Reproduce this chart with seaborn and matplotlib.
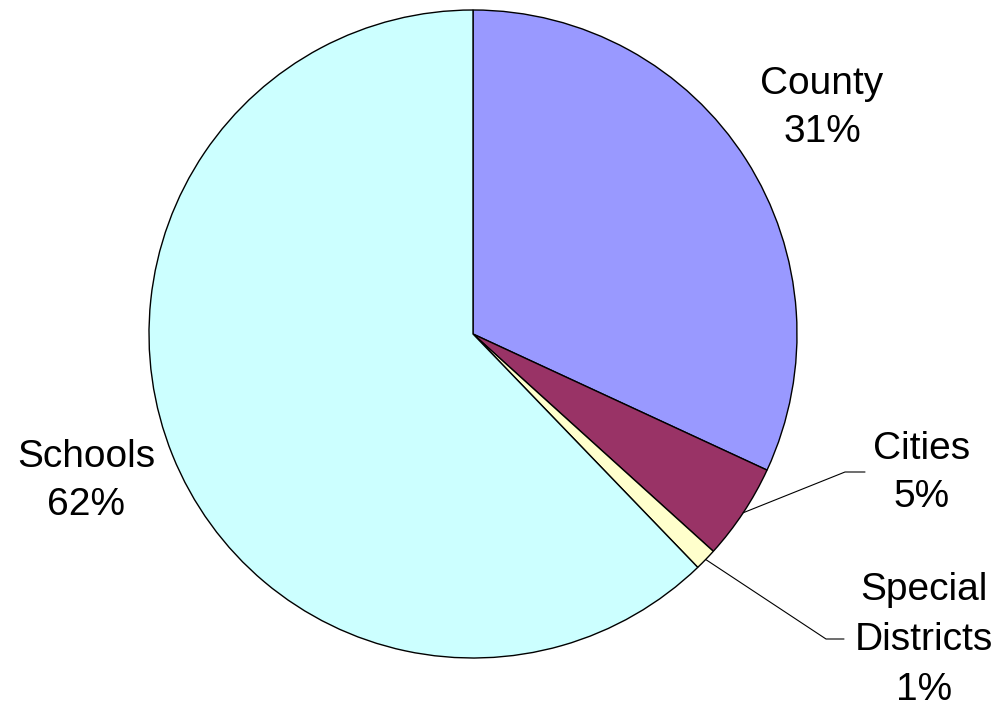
import matplotlib
matplotlib.use("Agg")
import matplotlib.pyplot as plt
import seaborn as sns
import numpy as np

# data
categories = ["County", "Cities", "Special\nDistricts", "Schools"]
shares = [31.9, 4.8, 1.1, 62.2]
pct_text = ["31%", "5%", "1%", "62%"]
colors = ["#9999FF", "#993366", "#FFFFCC", "#CCFFFF"]

sns.set_theme(style="white")
plt.rcParams['font.family'] = ['Liberation Sans', 'DejaVu Sans']

fig = plt.figure(figsize=(10.03, 7.08), dpi=100)
ax = fig.add_axes([0, 0, 1, 1])

cx, cy, r = 473, 374, 324
wedges, _ = ax.pie(shares, colors=colors, startangle=90, counterclock=False,
                   center=(cx, cy), radius=r, frame=True,
                   wedgeprops=dict(edgecolor='black', linewidth=1.0))
ax.set_xlim(0, 1003)
ax.set_ylim(0, 708)
ax.axis('off')

fs = 28
lab = [c + "\n" + p for c, p in zip(categories, pct_text)]
# label positions (pixel coords, y up)
pos = {0: (822, 708 - 108), 1: (922, 708 - 473), 2: (924, 708 - 640), 3: (86, 708 - 481)}
for i, w in enumerate(wedges):
    x, y = pos[i]
    ax.text(x, y, lab[i], ha='center', va='center', fontsize=fs,
            linespacing=1.5 if i == 2 else 1.4, color='black')

# leader lines for the small slices
elbows = {1: ((845, 708 - 472), (865, 708 - 472)), 2: ((826, 708 - 639), (844, 708 - 639))}
for i, (p1, p2) in elbows.items():
    w = wedges[i]
    mid = np.deg2rad((w.theta1 + w.theta2) / 2)
    sx, sy = cx + r * np.cos(mid), cy + r * np.sin(mid)
    ax.plot([sx, p1[0], p2[0]], [sy, p1[1], p2[1]], color='black', lw=0.8)

fig.savefig("out.png", dpi=100)
